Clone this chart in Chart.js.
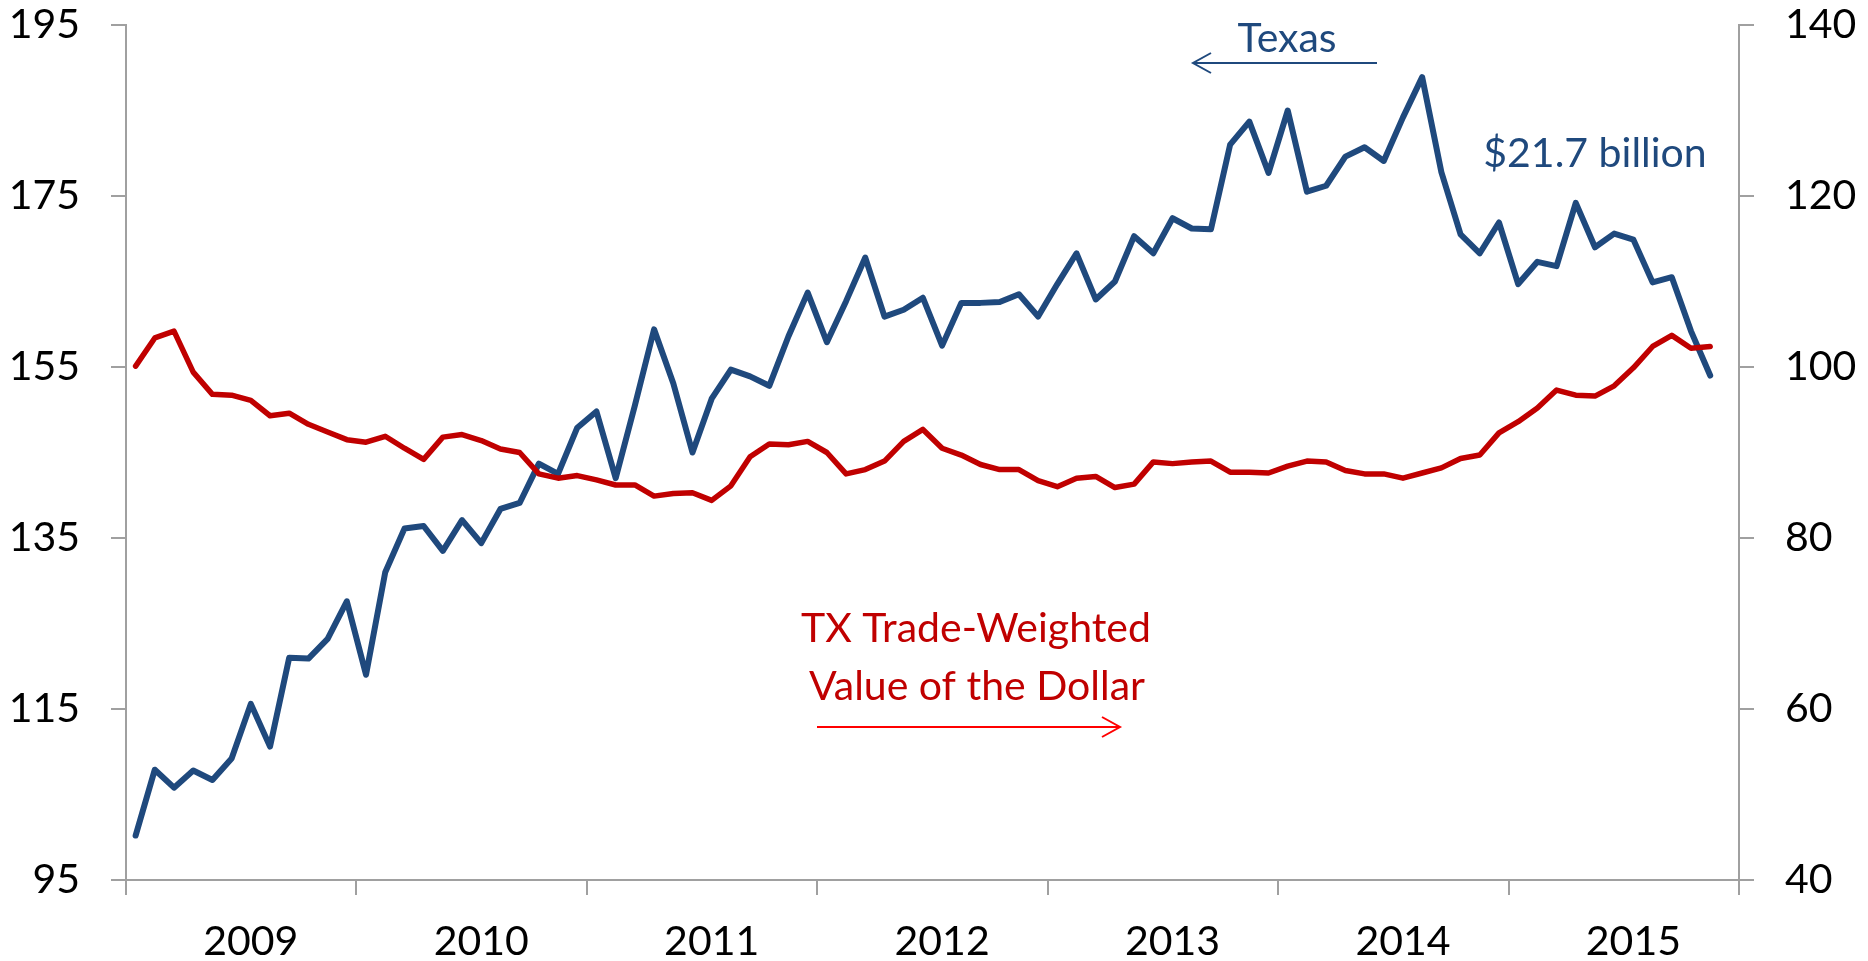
<!DOCTYPE html>
<html>
<head>
<meta charset="utf-8">
<title>Texas exports and trade-weighted dollar</title>
<script src="https://cdn.jsdelivr.net/npm/chart.js@4/dist/chart.umd.min.js"></script>
<style>
  html, body { margin: 0; padding: 0; background: #fff; }
  canvas { display: block; }
</style>
</head>
<body>
<canvas id="chart" width="1868" height="961"></canvas>
<script>
// monthly, Jan 2009 - Nov 2015
const years = ['2009', '2010', '2011', '2012', '2013', '2014', '2015'];
const monthNames = ['Jan', 'Feb', 'Mar', 'Apr', 'May', 'Jun', 'Jul', 'Aug', 'Sep', 'Oct', 'Nov', 'Dec'];

// Texas exports, left axis
const texasExports = [
  100.2, 107.9, 105.8, 107.8, 106.7, 109.2, 115.6, 110.6, 121.0, 120.9, 123.2, 127.6,
  119.0, 131.0, 136.1, 136.4, 133.5, 137.1, 134.4, 138.4, 139.1, 143.7, 142.5, 147.9,
  149.8, 142.0, 150.5, 159.4, 153.1, 145.0, 151.3, 154.7, 153.9, 152.8, 158.6, 163.7,
  157.9, 162.7, 167.8, 160.9, 161.7, 163.1, 157.5, 162.5, 162.5, 162.6, 163.5, 160.9,
  164.7, 168.3, 162.9, 165.0, 170.3, 168.3, 172.4, 171.2, 171.1, 181.0, 183.7, 177.7,
  185.0, 175.5, 176.2, 179.6, 180.7, 179.1, 184.2, 188.9, 177.8, 170.5, 168.3, 171.9,
  164.7, 167.3, 166.8, 174.2, 169.0, 170.6, 169.9, 164.9, 165.5, 159.2, 154.0
];

// TX trade-weighted value of the dollar, right axis
const dollarIndex = [
  100.1, 103.4, 104.2, 99.4, 96.8, 96.7, 96.1, 94.3, 94.6, 93.3, 92.4, 91.5,
  91.2, 91.9, 90.5, 89.2, 91.8, 92.1, 91.4, 90.4, 90.0, 87.5, 87.0, 87.3,
  86.8, 86.2, 86.2, 84.9, 85.2, 85.3, 84.4, 86.1, 89.5, 91.0, 90.9, 91.3,
  90.0, 87.5, 88.0, 89.0, 91.3, 92.7, 90.5, 89.7, 88.6, 88.0, 88.0, 86.7,
  86.0, 87.0, 87.2, 85.9, 86.3, 88.9, 88.7, 88.9, 89.0, 87.7, 87.7, 87.6,
  88.4, 89.0, 88.9, 87.9, 87.5, 87.5, 87.0, 87.6, 88.2, 89.3, 89.7, 92.3,
  93.6, 95.2, 97.3, 96.7, 96.6, 97.8, 99.9, 102.4, 103.7, 102.2, 102.4
];

const leftTicks = [95, 115, 135, 155, 175, 195];
const rightTicks = [40, 60, 80, 100, 120, 140];

const months = [];
years.forEach(y => monthNames.forEach(m => months.push(m + ' ' + y)));

const BLUE = '#1F497D';
const RED = '#C00000';
const AXIS = '#A0A0A0';
const FONT = 'Lato';
const SIZE = 41;

// text labels and arrows drawn over the plot
const notes = [
  { text: 'Texas', x: 1287, y: 52, color: BLUE },
  { text: '$21.7 billion', x: 1595, y: 167, color: BLUE },
  { text: 'TX Trade-Weighted', x: 976, y: 642, color: RED },
  { text: 'Value of the Dollar', x: 977, y: 700, color: RED }
];
const arrows = [
  { from: 1377, to: 1193, y: 63, color: BLUE },
  { from: 817, to: 1120, y: 727, color: '#FF0000' }
];

const notesPlugin = {
  id: 'notes',
  afterDraw(chart) {
    const ctx = chart.ctx;
    ctx.save();
    ctx.font = SIZE + 'px ' + FONT;
    ctx.textAlign = 'center';
    ctx.textBaseline = 'alphabetic';
    notes.forEach(n => {
      ctx.fillStyle = n.color;
      ctx.fillText(n.text, n.x, n.y);
    });
    ctx.lineWidth = 2;
    arrows.forEach(a => {
      const dir = a.to > a.from ? 1 : -1;
      ctx.strokeStyle = a.color;
      ctx.beginPath();
      ctx.moveTo(a.from, a.y);
      ctx.lineTo(a.to, a.y);
      ctx.moveTo(a.to - dir * 18, a.y - 10);
      ctx.lineTo(a.to, a.y);
      ctx.lineTo(a.to - dir * 18, a.y + 10);
      ctx.stroke();
    });
    ctx.restore();
  }
};

function yAxis(position, tickValues, width) {
  return {
    position: position,
    min: tickValues[0],
    max: tickValues[tickValues.length - 1],
    afterBuildTicks: s => { s.ticks = tickValues.map(v => ({ value: v })); },
    afterFit: s => {
      s.width = width;
      s.paddingTop = 0;
      s.paddingBottom = 0;
    },
    grid: { drawOnChartArea: false, tickLength: 15, color: AXIS, lineWidth: 2 },
    border: { color: AXIS, width: 2 },
    ticks: { padding: 31, color: '#000', font: { family: FONT, size: SIZE } }
  };
}

function draw() {
  new Chart(document.getElementById('chart'), {
    type: 'line',
    data: {
      labels: months,
      datasets: [
        {
          label: 'Texas',
          data: texasExports,
          yAxisID: 'y',
          borderColor: BLUE,
          borderWidth: 6,
          pointRadius: 0,
          borderJoinStyle: 'round',
          borderCapStyle: 'round',
          order: 1
        },
        {
          label: 'TX Trade-Weighted Value of the Dollar',
          data: dollarIndex,
          yAxisID: 'y1',
          borderColor: RED,
          borderWidth: 5.5,
          pointRadius: 0,
          borderJoinStyle: 'round',
          borderCapStyle: 'round',
          order: 0
        }
      ]
    },
    options: {
      responsive: false,
      animation: false,
      layout: { padding: { top: 25, left: 0, right: 0, bottom: 0 } },
      plugins: { legend: { display: false }, tooltip: { enabled: false } },
      scales: {
        x: {
          type: 'category',
          offset: true,
          afterFit: s => {
            s.height = 81;
            s.paddingLeft = 0;
            s.paddingRight = 0;
          },
          grid: {
            offset: true,
            drawOnChartArea: false,
            tickLength: 15,
            lineWidth: 2,
            color: AXIS,
            tickColor: c => (c.type !== 'tick' || c.index % 12 === 0) ? AXIS : 'rgba(0,0,0,0)'
          },
          border: { color: AXIS, width: 2 },
          ticks: {
            autoSkip: false,
            maxRotation: 0,
            padding: 22,
            color: '#000',
            font: { family: FONT, size: SIZE },
            callback: (v, i) => (i % 12 === 6 ? years[Math.floor(i / 12)] : '')
          }
        },
        y: yAxis('left', leftTicks, 126),
        y1: yAxis('right', rightTicks, 129)
      }
    },
    plugins: [notesPlugin]
  });
}

document.fonts.load(SIZE + 'px ' + FONT).then(draw, draw);
</script>
</body>
</html>
